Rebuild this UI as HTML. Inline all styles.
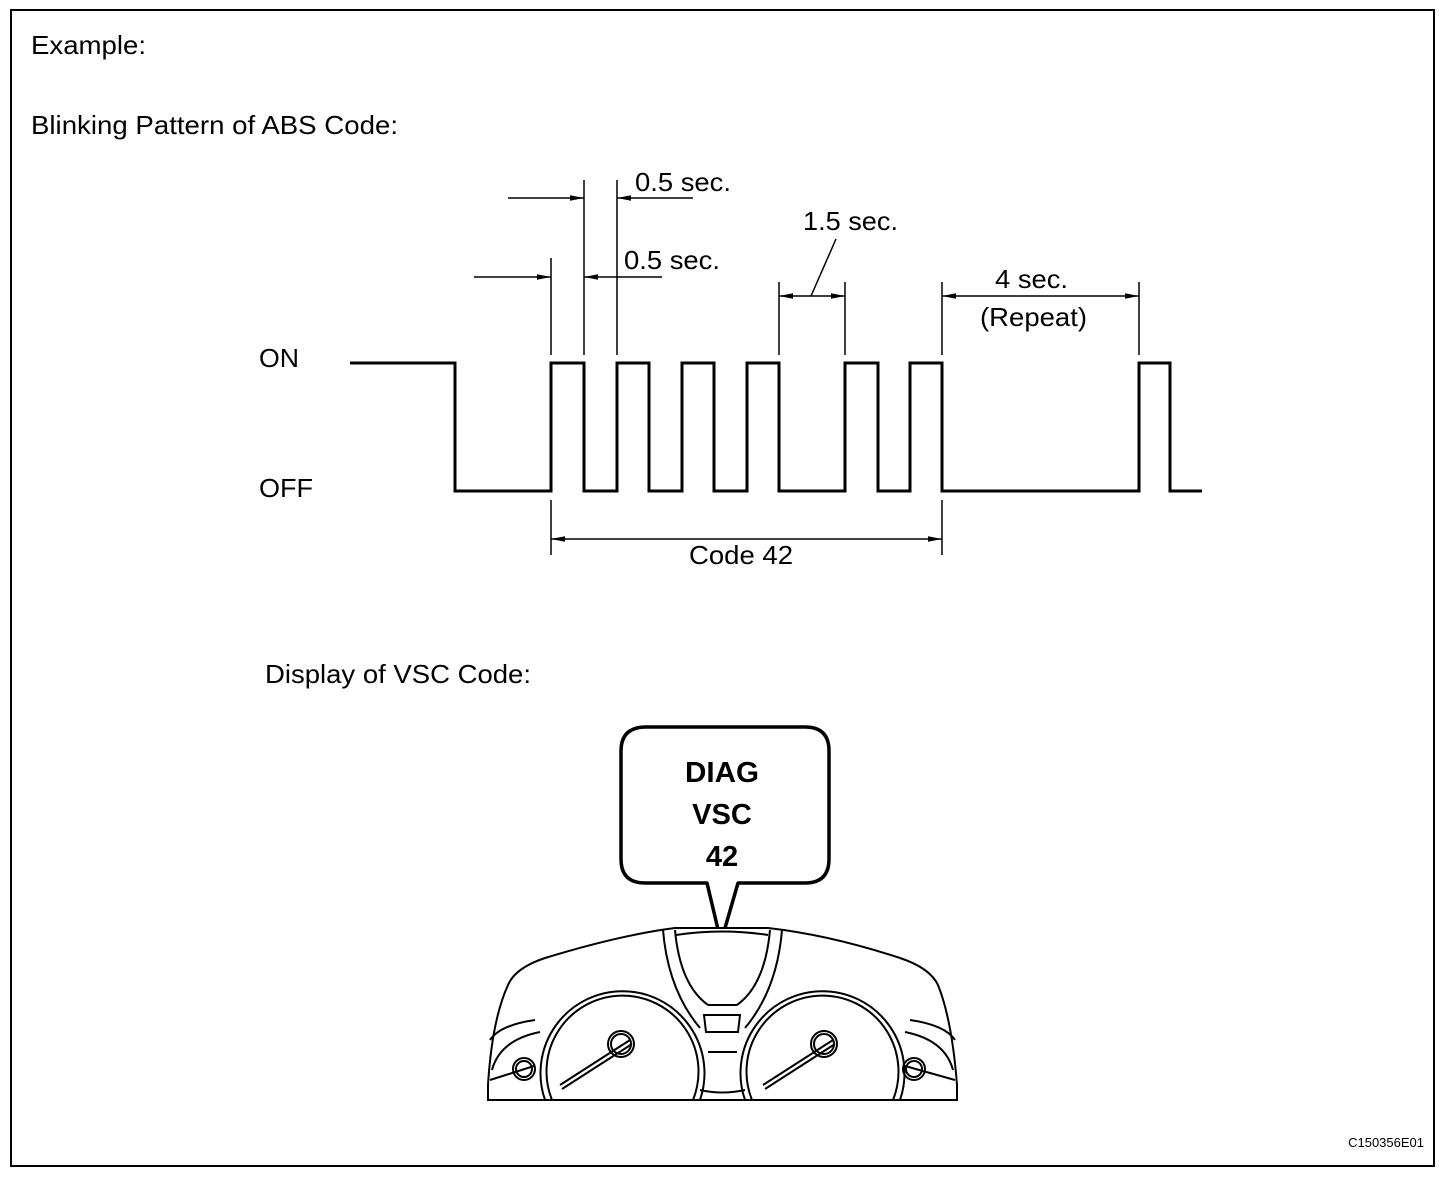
<!DOCTYPE html>
<html><head><meta charset="utf-8"><style>
html,body{margin:0;padding:0;background:#fff;}
svg{display:block;}
text{font-family:"Liberation Sans",Arial,sans-serif;fill:#000;}
</style></head><body>
<svg width="1456" height="1178" viewBox="0 0 1456 1178" xmlns="http://www.w3.org/2000/svg">
<defs>
<marker id="a" viewBox="0 0 14 6" refX="14" refY="3" markerWidth="14" markerHeight="6" orient="auto" markerUnits="userSpaceOnUse"><path d="M0,0.3 L14,3 L0,5.7z" fill="#000"/></marker>
</defs>
<rect x="11" y="10" width="1423" height="1156" fill="none" stroke="#000" stroke-width="2"/>
<text x="31" y="54" font-size="26" textLength="115" lengthAdjust="spacingAndGlyphs">Example:</text>
<text x="31" y="134" font-size="26" textLength="367" lengthAdjust="spacingAndGlyphs">Blinking Pattern of ABS Code:</text>
<text x="259" y="367" font-size="26" textLength="40" lengthAdjust="spacingAndGlyphs">ON</text>
<text x="259" y="497" font-size="26" textLength="54" lengthAdjust="spacingAndGlyphs">OFF</text>
<polyline fill="none" stroke="#000" stroke-width="3" points="350,363 455,363 455,491 551,491 551,363 584,363 584,491 617,491 617,363 649,363 649,491 682,491 682,363 714,363 714,491 747,491 747,363 779,363 779,491 845,491 845,363 878,363 878,491 910,491 910,363 942,363 942,491 1139,491 1139,363 1170,363 1170,491 1202,491"/>
<g stroke="#000" stroke-width="1.5" fill="none">
<line x1="551" y1="258" x2="551" y2="355"/>
<line x1="584" y1="180" x2="584" y2="355"/>
<line x1="617" y1="180" x2="617" y2="355"/>
<line x1="508" y1="198" x2="584" y2="198" marker-end="url(#a)"/>
<line x1="693" y1="198" x2="617" y2="198" marker-end="url(#a)"/>
<line x1="474" y1="277" x2="551" y2="277" marker-end="url(#a)"/>
<line x1="662" y1="277" x2="584" y2="277" marker-end="url(#a)"/>
<line x1="779" y1="282" x2="779" y2="355"/>
<line x1="845" y1="282" x2="845" y2="355"/>
<line x1="811" y1="296" x2="779" y2="296" marker-end="url(#a)"/>
<line x1="811" y1="296" x2="845" y2="296" marker-end="url(#a)"/>
<line x1="811" y1="296" x2="836" y2="239"/>
<line x1="942" y1="282" x2="942" y2="355"/>
<line x1="1139" y1="282" x2="1139" y2="355"/>
<line x1="1040" y1="296" x2="942" y2="296" marker-end="url(#a)"/>
<line x1="1040" y1="296" x2="1139" y2="296" marker-end="url(#a)"/>
<line x1="551" y1="500" x2="551" y2="555"/>
<line x1="942" y1="500" x2="942" y2="555"/>
<line x1="746" y1="539" x2="551" y2="539" marker-end="url(#a)"/>
<line x1="746" y1="539" x2="942" y2="539" marker-end="url(#a)"/>
</g>
<text x="635" y="191" font-size="26" textLength="96" lengthAdjust="spacingAndGlyphs">0.5 sec.</text>
<text x="624" y="269" font-size="26" textLength="96" lengthAdjust="spacingAndGlyphs">0.5 sec.</text>
<text x="803" y="230" font-size="26" textLength="95" lengthAdjust="spacingAndGlyphs">1.5 sec.</text>
<text x="995" y="288" font-size="26" textLength="73" lengthAdjust="spacingAndGlyphs">4 sec.</text>
<text x="980" y="326" font-size="26" textLength="107" lengthAdjust="spacingAndGlyphs">(Repeat)</text>
<text x="689" y="564" font-size="26" textLength="104" lengthAdjust="spacingAndGlyphs">Code 42</text>
<text x="265" y="683" font-size="26" textLength="266" lengthAdjust="spacingAndGlyphs">Display of VSC Code:</text>
<path d="M646,727 H805 Q829,727 829,751 V859 Q829,883 805,883 H738 L721,942 L707,883 H645 Q621,883 621,859 V751 Q621,727 646,727 Z" fill="#fff" stroke="#000" stroke-width="3.5" stroke-linejoin="round"/>
<text x="685" y="782" font-size="29" font-weight="bold" textLength="74" lengthAdjust="spacingAndGlyphs">DIAG</text>
<text x="722" y="824" font-size="29" font-weight="bold" text-anchor="middle">VSC</text>
<text x="722" y="866" font-size="29" font-weight="bold" text-anchor="middle">42</text>
<g fill="none" stroke="#000" stroke-width="2">
<path d="M488,1100 L488,1085 Q492,1020 508,985 Q515,968 545,958 Q620,935 675,928 L768,928 Q830,935 900,958 Q930,968 938,985 Q952,1020 957,1085 L957,1100 Z" fill="#fff"/>
<path d="M545,1100 A82,82 0 1,1 700,1100"/>
<path d="M552,1100 A76,76 0 1,1 693,1100"/>
<path d="M745,1100 A82,82 0 1,1 900,1100"/>
<path d="M752,1100 A76,76 0 1,1 893,1100"/>
<path d="M663,930 Q668,990 700,1028"/>
<path d="M675,930 Q680,985 708,1005"/>
<path d="M782,930 Q777,990 745,1028"/>
<path d="M770,930 Q765,985 737,1005"/>
<path d="M676,935 Q722,928 768,935"/>
<path d="M708,1005 L737,1005"/>
<path d="M704,1015 L740,1015 L738,1032 L706,1032 Z"/>
<path d="M708,1052 L737,1052"/>
<path d="M700,1090 Q722,1095 745,1090"/>
<circle cx="621" cy="1044" r="13"/>
<circle cx="621" cy="1044" r="10"/>
<line x1="560" y1="1085" x2="630" y2="1040"/>
<line x1="562" y1="1089" x2="632" y2="1044"/>
<circle cx="824" cy="1044" r="13"/>
<circle cx="824" cy="1044" r="10"/>
<line x1="763" y1="1085" x2="833" y2="1040"/>
<line x1="765" y1="1089" x2="835" y2="1044"/>
<path d="M490,1040 Q500,1025 535,1020"/>
<path d="M492,1070 Q500,1040 540,1032"/>
<circle cx="524" cy="1069" r="11"/>
<circle cx="524" cy="1069" r="8"/>
<line x1="490" y1="1080" x2="534" y2="1066"/>
<path d="M955,1040 Q945,1025 910,1020"/>
<path d="M953,1070 Q945,1040 905,1032"/>
<circle cx="914" cy="1069" r="11"/>
<circle cx="914" cy="1069" r="8"/>
<line x1="955" y1="1080" x2="905" y2="1066"/>
</g>
<text x="1424" y="1147" font-size="13" text-anchor="end">C150356E01</text>
</svg>
</body></html>
